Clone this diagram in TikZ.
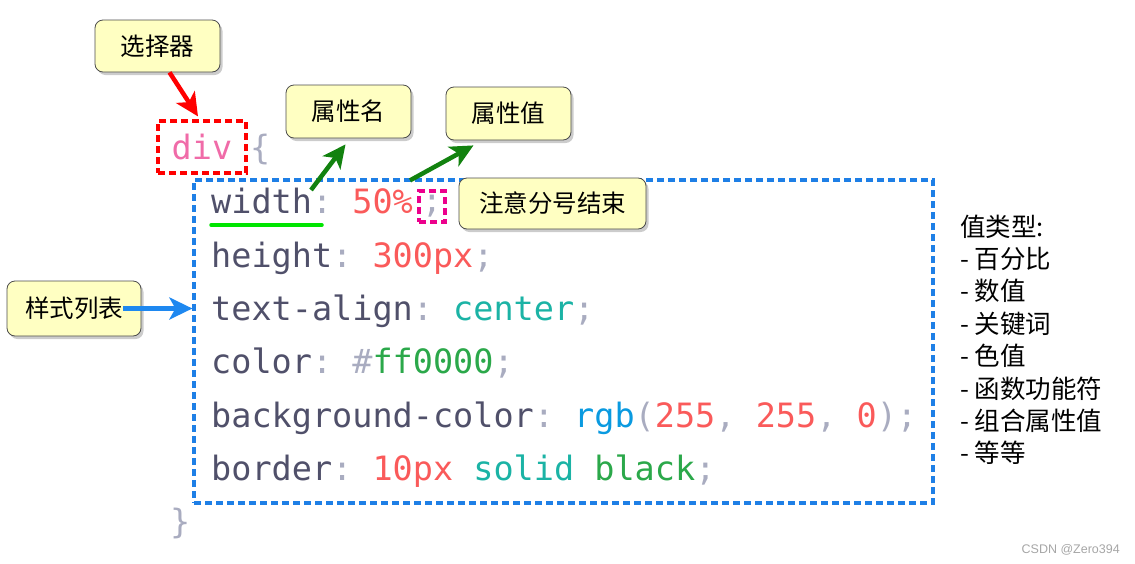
\documentclass[tikz,border=0pt]{standalone}
\usepackage{fontspec}
\setmonofont{DejaVu Sans Mono}
\newfontfamily\cjk{Noto Sans CJK SC}
\newfontfamily\wmfont{Liberation Sans}
\usetikzlibrary{positioning,calc,shadows,arrows.meta}

\definecolor{tipfill}{HTML}{FFFFC2}
\definecolor{propc}{HTML}{50506A}
\definecolor{punctc}{HTML}{A9ACC0}
\definecolor{numc}{HTML}{FA5A5A}
\definecolor{kwc}{HTML}{1BB3A5}
\definecolor{grnc}{HTML}{2BA84A}
\definecolor{rgbc}{HTML}{0A9AE0}
\definecolor{divc}{HTML}{F06BA8}
\definecolor{arrgreen}{HTML}{12820F}
\definecolor{arrblue}{HTML}{1E88F0}
\definecolor{boxblue}{HTML}{1E7FE6}

\newcommand{\pn}[1]{\textcolor{propc}{#1}}
\newcommand{\pc}[1]{\textcolor{punctc}{#1}}
\newcommand{\nm}[1]{\textcolor{numc}{#1}}
\newcommand{\kw}[1]{\textcolor{kwc}{#1}}
\newcommand{\gr}[1]{\textcolor{grnc}{#1}}

\begin{document}
\begin{tikzpicture}[x=1pt,y=-1pt,
    callout/.style={draw=black!70, line width=0.8pt, fill=tipfill, rounded corners=8pt,
      drop shadow={shadow xshift=2.5pt,shadow yshift=-3pt,opacity=0.4},
      font=\cjk\fontsize{24.5}{28}\selectfont, inner sep=0pt},
    codeline/.style={anchor=base west, inner sep=0pt, font=\ttfamily\fontsize{33.5}{40}\selectfont},
    listline/.style={anchor=base west, inner sep=0pt, font=\cjk\fontsize{25.5}{30}\selectfont},
    bigarrow/.style={line width=4.5pt, -{Stealth[length=23pt,width=22pt,inset=6pt]}},
    markbox/.style={line width=3.2pt, dash pattern=on 7pt off 4pt, inner sep=0pt}]
  \useasboundingbox (0,0) rectangle (1135,563);

  % code
  \node[markbox, draw=red, minimum width=88pt, minimum height=52pt,
    font=\ttfamily\fontsize{33.5}{40}\selectfont] (div) at (202,147) {\textcolor{divc}{div}};
  \node[codeline] (brace) at (250,159) {\pc{\{}};
  \node[codeline] (l1) at (211,213) {\pn{width}\pc{:} \nm{50\%}};
  \node[codeline] (l2) at (211,267) {\pn{height}\pc{:} \nm{300px}\pc{;}};
  \node[codeline] (l3) at (211,320) {\pn{text-align}\pc{:} \kw{center}\pc{;}};
  \node[codeline] (l4) at (211,373) {\pn{color}\pc{:} \pc{\#}\gr{ff0000}\pc{;}};
  \node[codeline] (l5) at (211,427) {\pn{background-color}\pc{:} \textcolor{rgbc}{rgb}\pc{(}\nm{255}\pc{,} \nm{255}\pc{,} \nm{0}\pc{);}};
  \node[codeline] (l6) at (211,480) {\pn{border}\pc{:} \nm{10px} \kw{solid} \gr{black}\pc{;}};
  \node[codeline] (endbrace) at (170,533) {\pc{\}}};

  \node[markbox, draw=boxblue, minimum width=739pt, minimum height=323pt] (props) at (563.5,341.5) {};
  \node[markbox, draw=magenta, minimum width=26pt, minimum height=31pt,
    font=\ttfamily\fontsize{33.5}{40}\selectfont] (semibox) at (432,206.5) {\pc{;}};
  \draw[green!90!black, line width=3.5pt, line cap=round] ([yshift=-12pt]l1.base west) -- ++(111,0);

  % callouts
  \node[callout, minimum width=125pt, minimum height=52pt] (sel) at (157.5,46) {选择器};
  \node[callout, minimum width=125pt, minimum height=53pt] (pname) at (348.5,111.5) {属性名};
  \node[callout, minimum width=125pt, minimum height=53pt] (pval) at (508.5,113.5) {属性值};
  \node[callout, minimum width=187pt, minimum height=51pt] (semi) at (552.5,203.5) {注意分号结束};
  \node[callout, minimum width=134pt, minimum height=55pt] (list) at (74,308.5) {样式列表};

  % arrows
  \draw[bigarrow, red] ([xshift=12pt]sel.south) -- ([xshift=-4pt,yshift=3pt]div.north);
  \draw[bigarrow, arrgreen] ([xshift=100pt,yshift=23pt]l1.base west) -- ([xshift=-3pt,yshift=-6pt]pname.south);
  \draw[bigarrow, arrgreen] ([xshift=-22pt,yshift=9pt]semibox.north) -- ([xshift=-35pt,yshift=-5pt]pval.south);
  \draw[bigarrow, arrblue] ([xshift=-18pt]list.east) -- (props.west |- list.east);

  % value types
  \foreach \txt [count=\i from 0] in {值类型:, - 百分比, - 数值, - 关键词, - 色值, - 函数功能符, - 组合属性值, - 等等}
    \node[listline] (v\i) at (960,{236+\i*32.4}) {\txt};

  \node[anchor=base east, inner sep=0pt, text=black!35, font=\wmfont\fontsize{12.5}{14}\selectfont] (mark) at (1120,553) {CSDN @Zero394};
\end{tikzpicture}
\end{document}
